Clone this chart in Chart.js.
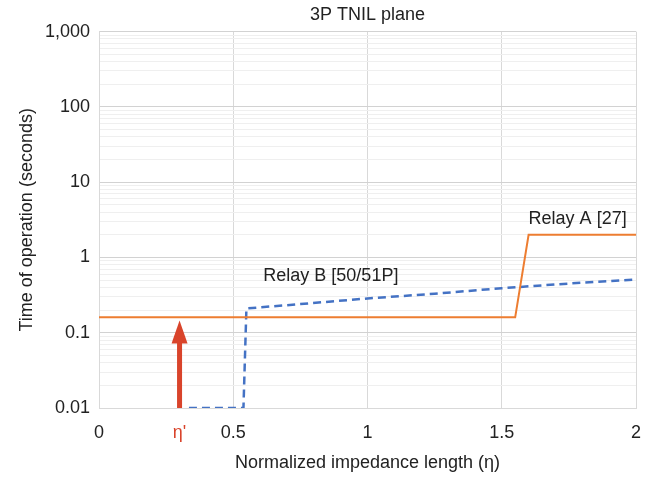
<!DOCTYPE html>
<html>
<head>
<meta charset="utf-8">
<script src="https://cdn.jsdelivr.net/npm/chart.js@4.4.1/dist/chart.umd.min.js"></script>
<style>
  html, body { margin: 0; padding: 0; background: #fff; }
  #wrap { width: 657px; height: 478px; }
</style>
</head>
<body>
<div id="wrap"><canvas id="c" width="657" height="478"></canvas></div>
<script>
// ---- data ----
const relayAX = [0, 1.55, 1.6, 2];
const relayAY = [0.16, 0.16, 2, 2];
const relayBX = [0.335, 0.538, 0.549, 0.75, 1, 1.25, 1.5, 1.75, 2];
const relayBY = [0.01, 0.01, 0.21, 0.24, 0.285, 0.33, 0.39, 0.45, 0.51];
const xTicks = [0, 0.3, 0.5, 1, 1.5, 2];
const xTickLabels = ['0', "η'", '0.5', '1', '1.5', '2'];
const yMajorTicks = [0.01, 0.1, 1, 10, 100, 1000];
const yMinorFactors = [2, 3, 4, 5, 6, 7, 8, 9];
const arrowX = 0.3, arrowFrom = 0.01, arrowTo = 0.145;
const seriesLabels = [
  { text: 'Relay A [27]', x: 1.6, y: 3.27 },
  { text: 'Relay B [50/51P]', x: 0.612, y: 0.56 }
];

const FONT = "'Liberation Sans', Arial, sans-serif";
const TXT = '#222222';
const RED = '#d9442b';

function toPts(xs, ys) { return xs.map((x, i) => ({ x, y: ys[i] })); }
function isMajor(v) { const l = Math.log10(v); return Math.abs(l - Math.round(l)) < 1e-9; }

const yTickValues = [];
yMajorTicks.forEach((m, i) => {
  yTickValues.push(m);
  if (i < yMajorTicks.length - 1) yMinorFactors.forEach(f => yTickValues.push(m * f));
});
yTickValues.sort((a, b) => a - b);

const overlay = {
  id: 'overlay',
  afterDatasetsDraw(chart) {
    const { ctx, scales: { x, y } } = chart;
    // arrow
    const px = x.getPixelForValue(arrowX);
    const yb = y.getPixelForValue(arrowFrom);
    const yt = y.getPixelForValue(arrowTo);
    const headH = 23, headW = 16, shaft = 5;
    ctx.save();
    ctx.fillStyle = RED;
    ctx.fillRect(px - shaft / 2, yt + headH - 1, shaft, yb - (yt + headH - 1));
    ctx.beginPath();
    ctx.moveTo(px, yt);
    ctx.lineTo(px + headW / 2, yt + headH);
    ctx.lineTo(px - headW / 2, yt + headH);
    ctx.closePath();
    ctx.fill();
    // series labels
    ctx.fillStyle = TXT;
    ctx.font = '18px ' + FONT;
    ctx.textAlign = 'left';
    ctx.textBaseline = 'middle';
    seriesLabels.forEach(l => ctx.fillText(l.text, x.getPixelForValue(l.x), y.getPixelForValue(l.y)));
    ctx.restore();
  }
};

new Chart(document.getElementById('c'), {
  type: 'scatter',
  data: {
    datasets: [
      {
        label: 'Relay A [27]',
        data: toPts(relayAX, relayAY),
        showLine: true,
        borderColor: '#ed7d31',
        borderWidth: 2,
        pointRadius: 0,
        tension: 0
      },
      {
        label: 'Relay B [50/51P]',
        data: toPts(relayBX, relayBY),
        showLine: true,
        borderColor: '#4472c4',
        borderWidth: 2.5,
        borderDash: [8, 5],
        pointRadius: 0,
        tension: 0
      }
    ]
  },
  options: {
    responsive: false,
    animation: false,
    layout: { padding: { left: 0, right: 21, top: 0, bottom: 0 } },
    plugins: {
      legend: { display: false },
      tooltip: { enabled: false },
      title: {
        display: true,
        fullSize: false,
        text: '3P TNIL plane',
        color: TXT,
        font: { family: FONT, size: 18, weight: 'normal' },
        padding: { top: 4, bottom: 6 }
      }
    },
    scales: {
      x: {
        type: 'linear',
        min: 0, max: 2,
        afterBuildTicks(s) { s.ticks = xTicks.map(v => ({ value: v })); },
        afterFit(s) { s.height = 70; },
        ticks: {
          autoSkip: false,
          maxRotation: 0,
          padding: 14,
          font: { family: FONT, size: 18 },
          color: (c) => c.index === 1 ? RED : TXT,
          callback: (v, i) => xTickLabels[i]
        },
        grid: {
          drawTicks: false,
          color: (c) => (c.tick && Math.abs(c.tick.value - 0.3) < 1e-9) ? 'rgba(0,0,0,0)' : '#d9d9d9'
        },
        border: { display: true, color: '#d9d9d9' },
        title: {
          display: true,
          text: 'Normalized impedance length (η)',
          color: TXT,
          font: { family: FONT, size: 18 },
          padding: { top: 8, bottom: 4 }
        }
      },
      y: {
        type: 'logarithmic',
        min: 0.01, max: 1000,
        afterBuildTicks(s) { s.ticks = yTickValues.map(v => ({ value: v, major: isMajor(v) })); },
        afterFit(s) { s.width = 99; },
        ticks: {
          autoSkip: false,
          padding: 9,
          font: { family: FONT, size: 18 },
          color: TXT,
          callback: (v) => isMajor(v) ? Number(v).toLocaleString('en-US', { maximumFractionDigits: 2 }) : ''
        },
        grid: {
          drawTicks: false,
          color: (c) => (c.tick && isMajor(c.tick.value)) ? '#d2d2d2' : '#efefef'
        },
        border: { display: true, color: '#d9d9d9' },
        title: {
          display: true,
          text: 'Time of operation (seconds)',
          color: TXT,
          font: { family: FONT, size: 18 },
          padding: { top: 16, bottom: 4 }
        }
      }
    }
  },
  plugins: [overlay]
});
</script>
</body>
</html>
